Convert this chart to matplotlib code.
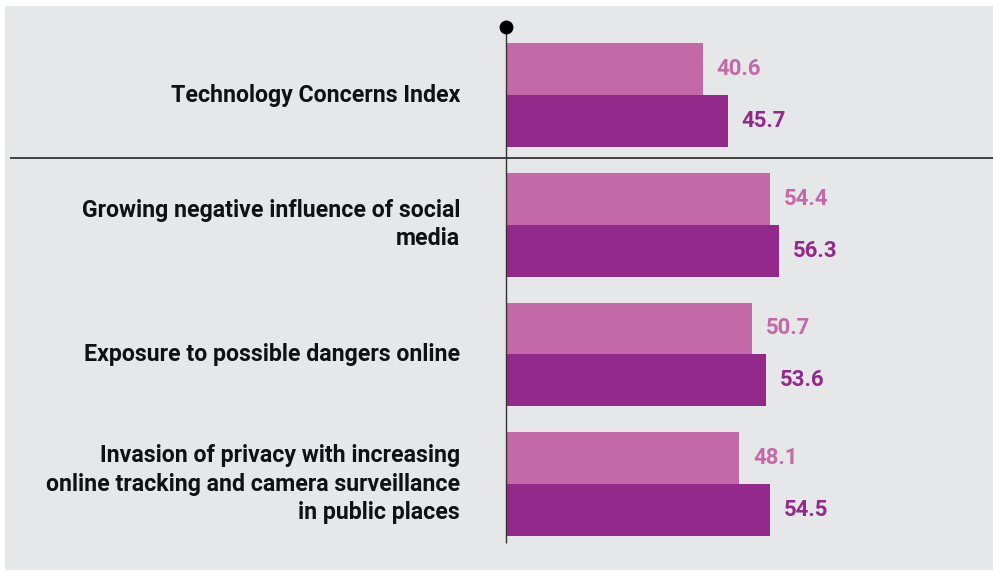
import matplotlib.pyplot as plt
from matplotlib import font_manager

# data
categories = [
    "Technology Concerns Index",
    "Growing negative influence of social\nmedia",
    "Exposure to possible dangers online",
    "Invasion of privacy with increasing\nonline tracking and camera surveillance\nin public places",
]
series_a = [40.6, 54.4, 50.7, 48.1]   # light
series_b = [45.7, 56.3, 53.6, 54.5]   # dark

LIGHT = "#c469a8"
DARK = "#93298b"
BG = "#e6e7e8"

names = {f.name for f in font_manager.fontManager.ttflist}
FONT = "Liberation Sans Narrow" if "Liberation Sans Narrow" in names else "Roboto"

W, H = 993, 571
fig = plt.figure(figsize=(W / 100, H / 100), dpi=100)
fig.patch.set_facecolor("white")

# axes covers the grey panel
ax = fig.add_axes([5 / W, 1 - 570 / H, 988 / W, 564 / H])
ax.set_facecolor(BG)
for s in ax.spines.values():
    s.set_visible(False)
ax.set_xticks([])
ax.set_yticks([])

px_per_unit = 4.85
ax.set_xlim((5 - 506) / px_per_unit, (993 - 506) / px_per_unit)
pitch = 129.7
ax.set_ylim((570 - 95) / pitch, (6 - 95) / pitch)

bh = 0.4
for i in range(len(categories)):
    ax.barh(i - bh / 2, series_a[i], height=bh, color=LIGHT)
    ax.barh(i + bh / 2, series_b[i], height=bh, color=DARK)
    ax.annotate(f"{series_a[i]:.1f}", (series_a[i], i - bh / 2), xytext=(10, 0),
                textcoords="offset points", ha="left", va="center",
                color=LIGHT, fontsize=16, fontweight="bold", family=FONT)
    ax.annotate(f"{series_b[i]:.1f}", (series_b[i], i + bh / 2), xytext=(10, 0),
                textcoords="offset points", ha="left", va="center",
                color=DARK, fontsize=16, fontweight="bold", family=FONT)
    ax.text(-9.5, i, categories[i], ha="right", va="center", fontsize=16.7,
            fontweight="bold", family=FONT, color="#111111", linespacing=1.3)

# zero axis with dot on top, separator under the index
ax.vlines(0, -0.525, 3.455, color="#333333", lw=1)
ax.plot([0], [-0.525], "o", color="black", markersize=9, clip_on=False)
ax.hlines(0.486, (10 - 506) / px_per_unit, (993 - 506) / px_per_unit,
          color="#333333", lw=1.3)

fig.savefig("out.png", dpi=100)
